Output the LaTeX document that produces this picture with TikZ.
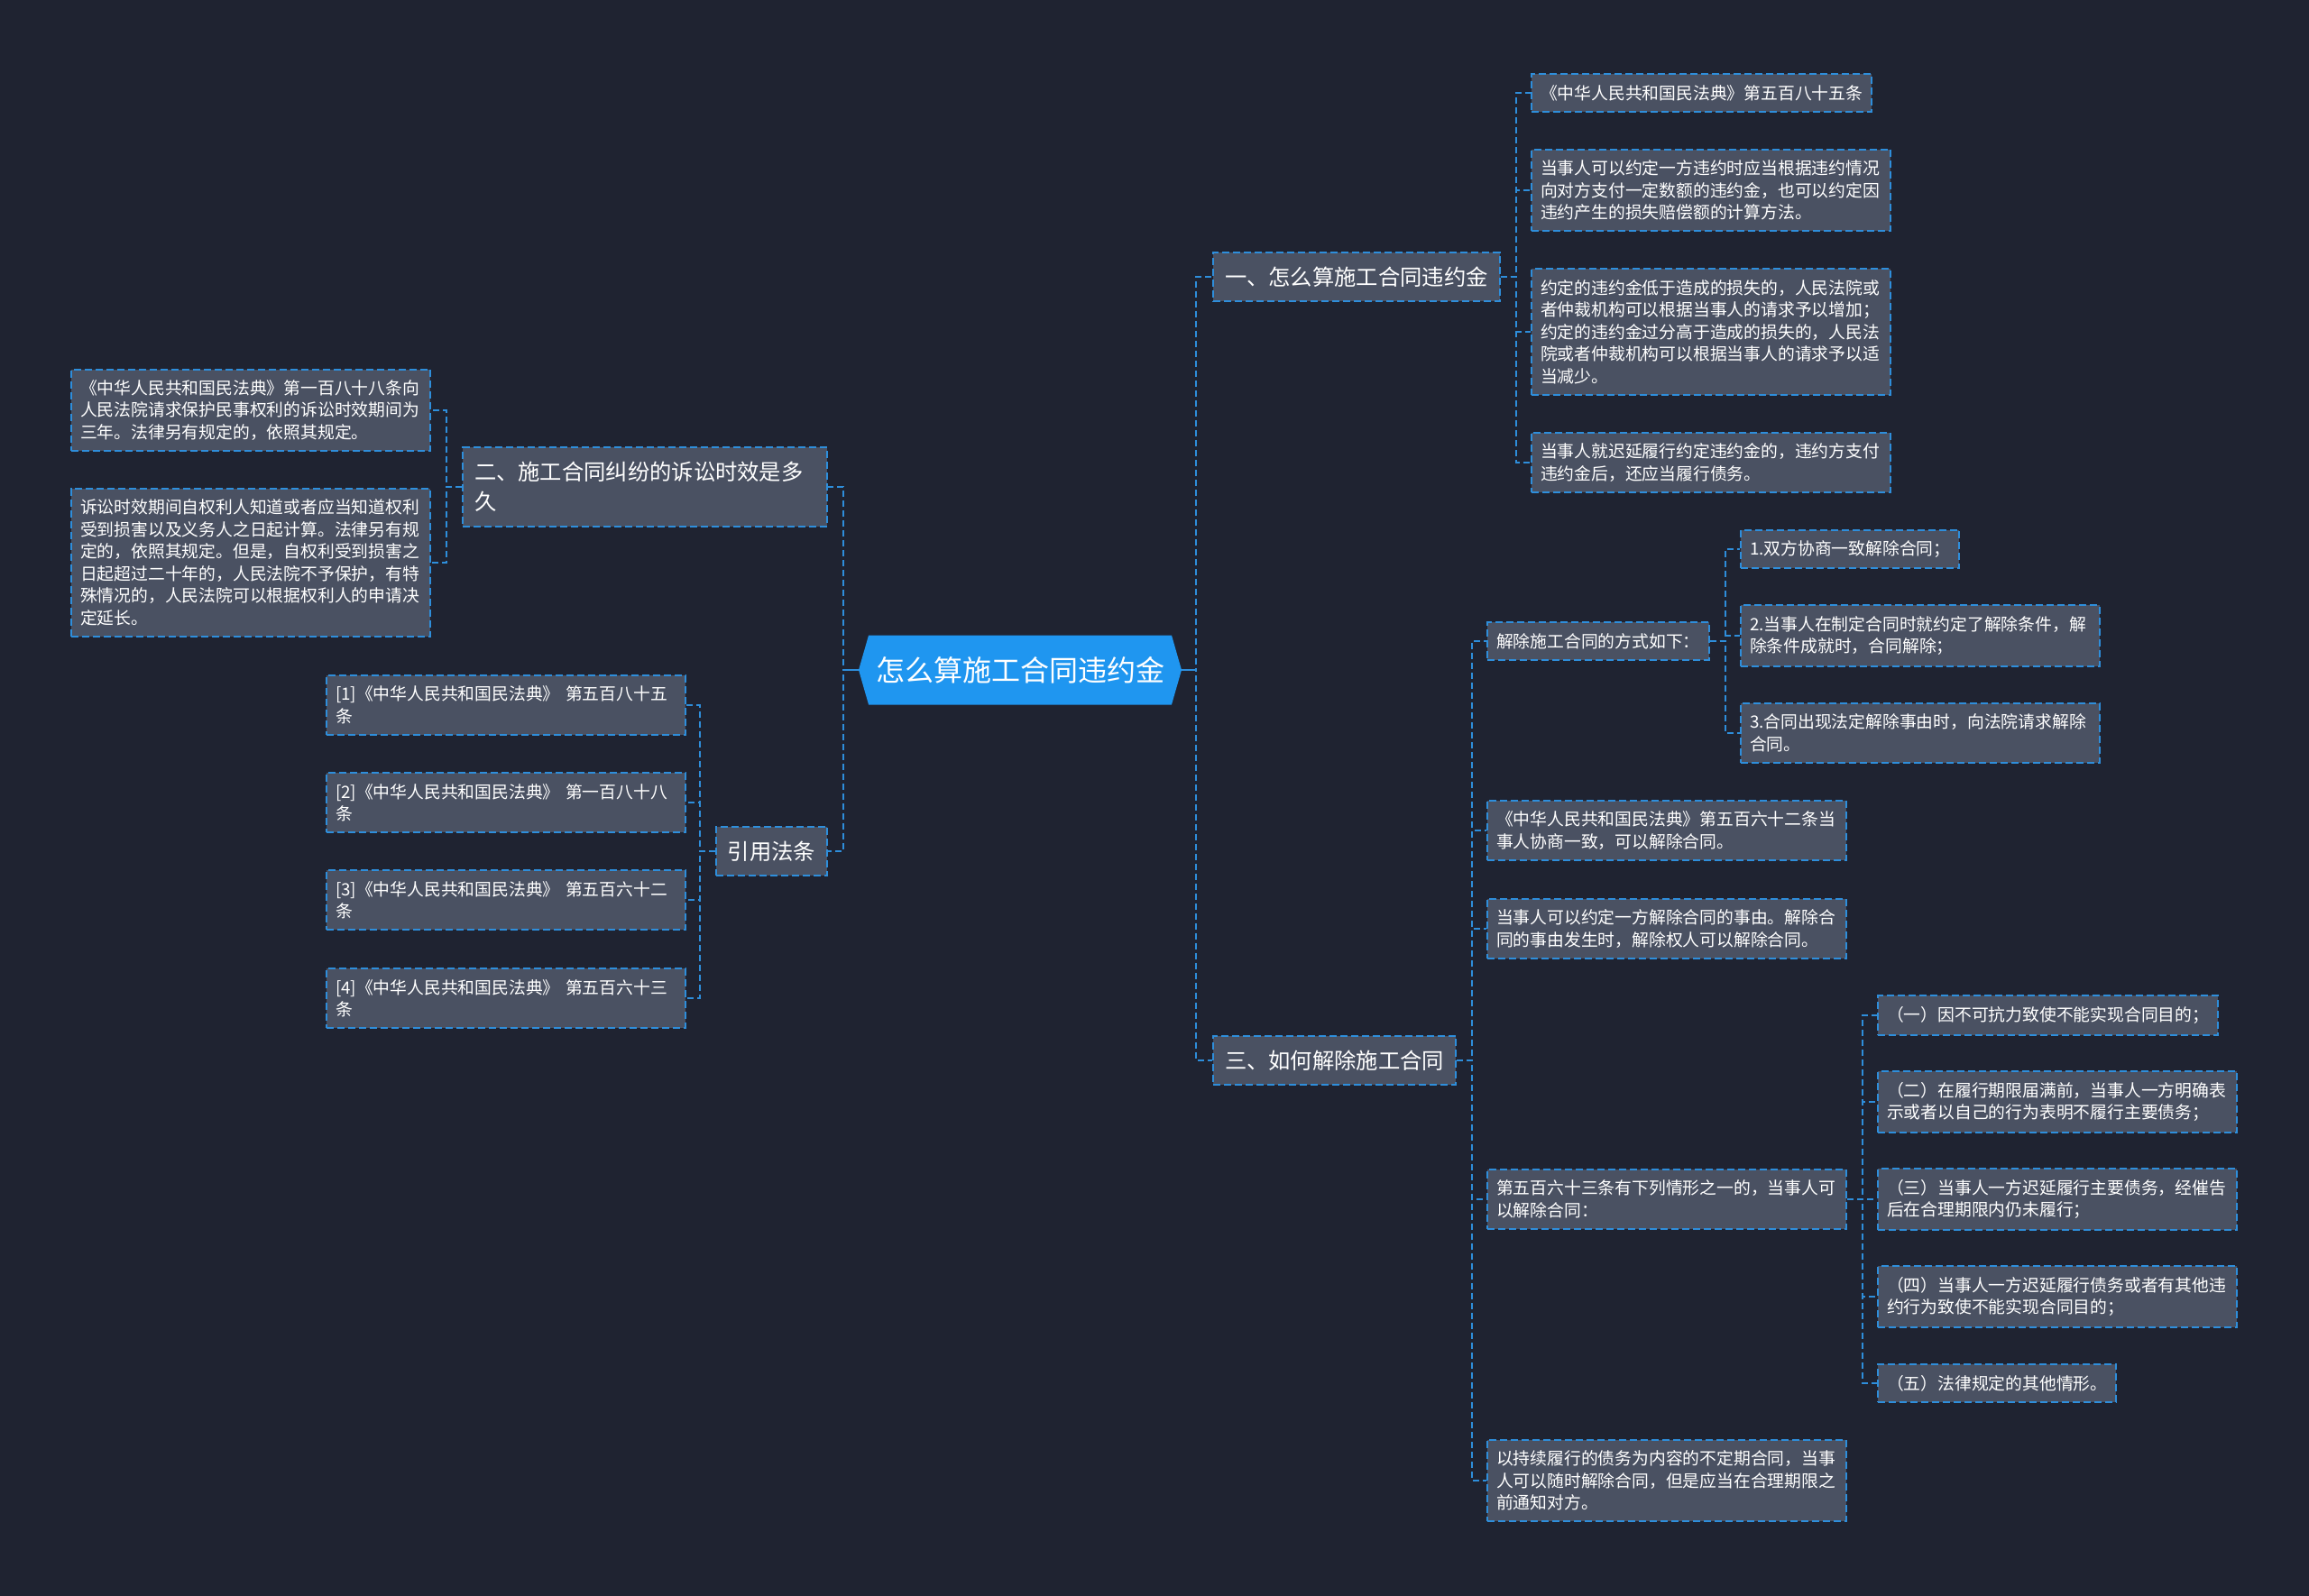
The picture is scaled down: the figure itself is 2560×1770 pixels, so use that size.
\documentclass[tikz,border=0pt]{standalone}
\usepackage{fontspec}
\newfontfamily\cjk{Noto Sans CJK SC}
\usetikzlibrary{shapes.symbols}
\definecolor{MapBg}{HTML}{1F2331}
\definecolor{MapBox}{HTML}{4A5162}
\definecolor{MapLine}{HTML}{2E8EDB}
\definecolor{MapRoot}{HTML}{1F96F0}

\begin{document}
\begin{tikzpicture}[x=1pt,y=-1pt]
  \tikzstyle{link}=[draw=MapLine,line width=2pt,dash pattern=on 7pt off 4pt]
  \tikzstyle{trunk}=[draw=MapLine,line width=2.5pt]
  \tikzstyle{box}=[draw=MapLine,line width=2pt,dash pattern=on 8pt off 4pt,
    fill=MapBox,text=white,inner xsep=10pt,inner ysep=12pt,align=left,
    font=\cjk\fontsize{18.8}{24.5}\selectfont]
  \tikzstyle{wide}=[box,text width=378pt]
  \tikzstyle{branch}=[box,inner xsep=13pt,inner ysep=16pt,
    font=\cjk\fontsize{24.3}{33}\selectfont]
  \fill[MapBg] (0,0) rectangle (2560,1770);
  \useasboundingbox (0,0) rectangle (2560,1770);
  \node[signal,signal to=east and west,signal pointer angle=148,fill=MapRoot,
    text=white,font=\cjk\fontsize{32}{38}\selectfont,minimum width=358pt,
    minimum height=77pt,inner xsep=4pt] (root) at (1131,743) {怎么算施工合同违约金};
  \node[branch,anchor=west] (n1) at (1344,307) {一、怎么算施工合同违约金};
  \node[branch,anchor=west] (n3) at (1344,1176) {三、如何解除施工合同};
  \node[branch,anchor=east,text width=378pt] (n2) at (918,540) {二、施工合同纠纷的诉讼时效是多\\久};
  \node[branch,anchor=east] (n4) at (918,944) {引用法条};
  \node[box,anchor=west] (a1) at (1697,103) {《中华人民共和国民法典》第五百八十五条};
  \node[wide,anchor=west] (a2) at (1697,211) {当事人可以约定一方违约时应当根据违约情况\\向对方支付一定数额的违约金，也可以约定因\\违约产生的损失赔偿额的计算方法。};
  \node[wide,anchor=west] (a3) at (1697,368) {约定的违约金低于造成的损失的，人民法院或\\者仲裁机构可以根据当事人的请求予以增加；\\约定的违约金过分高于造成的损失的，人民法\\院或者仲裁机构可以根据当事人的请求予以适\\当减少。};
  \node[wide,anchor=west] (a4) at (1697,513) {当事人就迟延履行约定违约金的，违约方支付\\违约金后，还应当履行债务。};
  \node[box,anchor=west] (b1) at (1648,711) {解除施工合同的方式如下：};
  \node[box,anchor=west] (c1) at (1929,609) {1.双方协商一致解除合同；};
  \node[wide,anchor=west] (c2) at (1929,705) {2.当事人在制定合同时就约定了解除条件，解\\除条件成就时，合同解除；};
  \node[wide,anchor=west] (c3) at (1929,813) {3.合同出现法定解除事由时，向法院请求解除\\合同。};
  \node[wide,anchor=west] (b2) at (1648,921) {《中华人民共和国民法典》第五百六十二条当\\事人协商一致，可以解除合同。};
  \node[wide,anchor=west] (b3) at (1648,1030) {当事人可以约定一方解除合同的事由。解除合\\同的事由发生时，解除权人可以解除合同。};
  \node[wide,anchor=west] (b4) at (1648,1330) {第五百六十三条有下列情形之一的，当事人可\\以解除合同：};
  \node[wide,anchor=west] (b5) at (1648,1642) {以持续履行的债务为内容的不定期合同，当事\\人可以随时解除合同，但是应当在合理期限之\\前通知对方。};
  \node[box,anchor=west] (d1) at (2081,1126) {（一）因不可抗力致使不能实现合同目的；};
  \node[wide,anchor=west] (d2) at (2081,1222) {（二）在履行期限届满前，当事人一方明确表\\示或者以自己的行为表明不履行主要债务；};
  \node[wide,anchor=west] (d3) at (2081,1330) {（三）当事人一方迟延履行主要债务，经催告\\后在合理期限内仍未履行；};
  \node[wide,anchor=west] (d4) at (2081,1438) {（四）当事人一方迟延履行债务或者有其他违\\约行为致使不能实现合同目的；};
  \node[box,anchor=west] (d5) at (2081,1534) {（五）法律规定的其他情形。};
  \node[wide,anchor=east] (e1) at (478,455) {《中华人民共和国民法典》第一百八十八条向\\人民法院请求保护民事权利的诉讼时效期间为\\三年。法律另有规定的，依照其规定。};
  \node[wide,anchor=east] (e2) at (478,624) {诉讼时效期间自权利人知道或者应当知道权利\\受到损害以及义务人之日起计算。法律另有规\\定的，依照其规定。但是，自权利受到损害之\\日起超过二十年的，人民法院不予保护，有特\\殊情况的，人民法院可以根据权利人的申请决\\定延长。};
  \node[wide,anchor=east] (f1) at (761,782) {[1]《中华人民共和国民法典》 第五百八十五\\条};
  \node[wide,anchor=east] (f2) at (761,890) {[2]《中华人民共和国民法典》 第一百八十八\\条};
  \node[wide,anchor=east] (f3) at (761,998) {[3]《中华人民共和国民法典》 第五百六十二\\条};
  \node[wide,anchor=east] (f4) at (761,1107) {[4]《中华人民共和国民法典》 第五百六十三\\条};
  \foreach \c in {n1,n3} \draw[link] (root.east) -- ++(16,0) |- (\c.west);
  \foreach \c in {n2,n4} \draw[link] (root.west) -- ++(-17,0) |- (\c.east);
  \draw[trunk] (root.east) -- ++(16,0);
  \draw[trunk] (root.west) -- ++(-17,0);
  \foreach \c in {a1,a2,a3,a4} \draw[link] (n1.east) -- ++(17,0) |- (\c.west);
  \foreach \c in {b1,b2,b3,b4,b5} \draw[link] (n3.east) -- ++(17,0) |- (\c.west);
  \foreach \c in {c1,c2,c3} \draw[link] (b1.east) -- ++(17,0) |- (\c.west);
  \foreach \c in {d1,d2,d3,d4,d5} \draw[link] (b4.east) -- ++(17,0) |- (\c.west);
  \foreach \c in {e1,e2} \draw[link] (n2.west) -- ++(-17,0) |- (\c.east);
  \foreach \c in {f1,f2,f3,f4} \draw[link] (n4.west) -- ++(-17,0) |- (\c.east);
\end{tikzpicture}
\end{document}
